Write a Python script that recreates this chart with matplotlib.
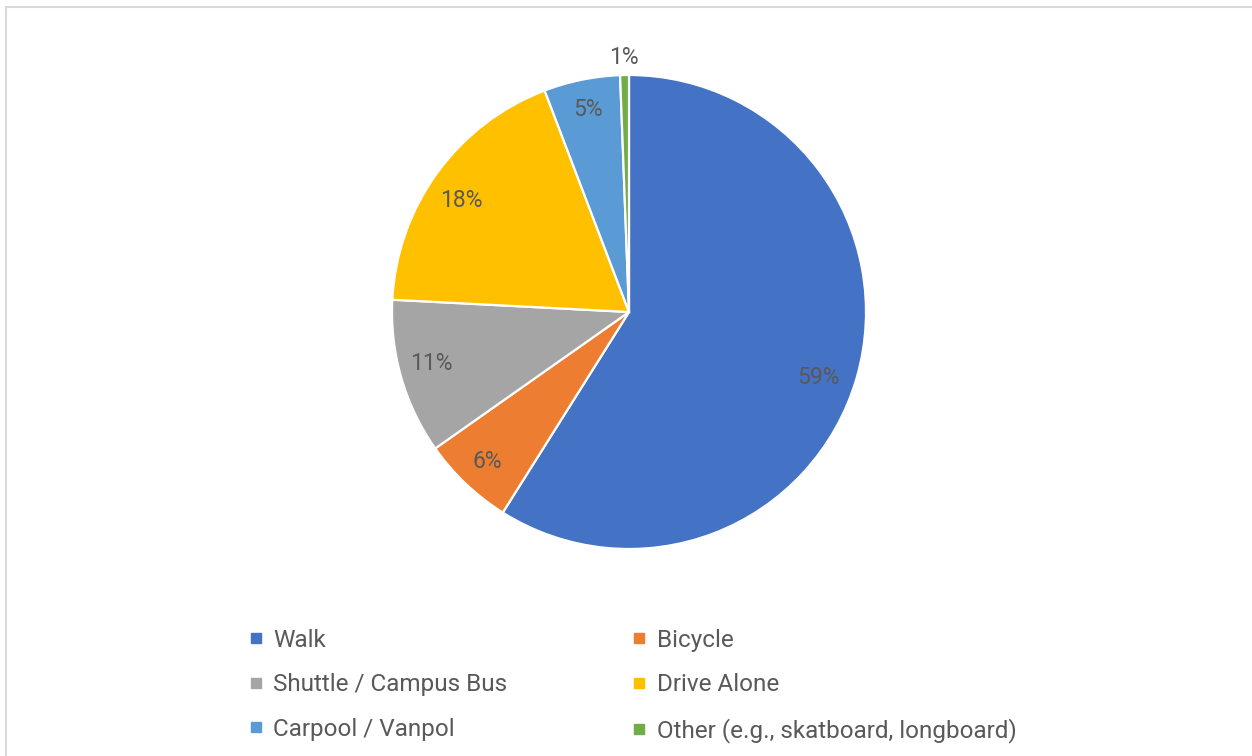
import matplotlib
matplotlib.use("Agg")
import matplotlib.pyplot as plt
from matplotlib.lines import Line2D
from matplotlib.patches import Rectangle
import numpy as np

categories = ["Walk", "Bicycle", "Shuttle / Campus Bus", "Drive Alone",
              "Carpool / Vanpol", "Other (e.g., skatboard, longboard)"]
values = [59.0, 6.3, 10.6, 18.4, 5.2, 0.6]
colors = ["#4472C4", "#ED7D31", "#A5A5A5", "#FFC000", "#5B9BD5", "#70AD47"]
text_color = "#595959"

plt.rcParams['font.family'] = ['Roboto', 'DejaVu Sans']

W, H = 1252, 756
fig = plt.figure(figsize=(W / 100, H / 100), dpi=100)
fig.patch.set_facecolor("white")

# outer chart frame (only left and top visible)
fig.add_artist(Rectangle((5.5 / W, -0.1), 1.2, 1 - 7.5 / H + 0.1, transform=fig.transFigure,
                         fill=False, edgecolor="#D9D9D9", linewidth=1.5))

cx, cy, r = 629, 312, 237
ax = fig.add_axes([(cx - r) / W, (H - cy - r) / H, 2 * r / W, 2 * r / H])
wedges, texts, autotexts = ax.pie(values, colors=colors, startangle=90, counterclock=False,
                                  autopct=lambda p: f"{p:.0f}%", pctdistance=0.855,
                                  wedgeprops=dict(edgecolor="white", linewidth=1.6),
                                  textprops=dict(color=text_color, fontsize=16.5))
ax.set_xlim(-1, 1)
ax.set_ylim(-1, 1)
ax.set_aspect("equal")
ax.axis("off")

# label placement tweaks (best-fit style): (radius, angle nudge in degrees)
label_place = [(0.845, -3.0), (0.87, 0.0), (0.86, -1.5), (0.85, 2.5), (0.87, 0.0), (1.075, 0.0)]
for w, t, (rad, nudge) in zip(wedges, autotexts, label_place):
    ang = np.deg2rad((w.theta1 + w.theta2) / 2 + nudge)
    t.set_position((rad * np.cos(ang), rad * np.sin(ang)))

handles = [Line2D([], [], marker="s", linestyle="none", markersize=6.5,
                  markerfacecolor=c, markeredgecolor=c) for c in colors]
order = [0, 2, 4, 1, 3, 5]
leg = fig.legend([handles[i] for i in order], [categories[i] for i in order],
                 ncol=2, loc="upper left", bbox_to_anchor=(249 / W, 1 - 629 / H),
                 frameon=False, fontsize=17.5, labelcolor=text_color,
                 handlelength=0.55, handletextpad=0.45, columnspacing=5.15,
                 labelspacing=0.88, borderaxespad=0, borderpad=0)

fig.savefig("out.png", dpi=100, facecolor="white")
